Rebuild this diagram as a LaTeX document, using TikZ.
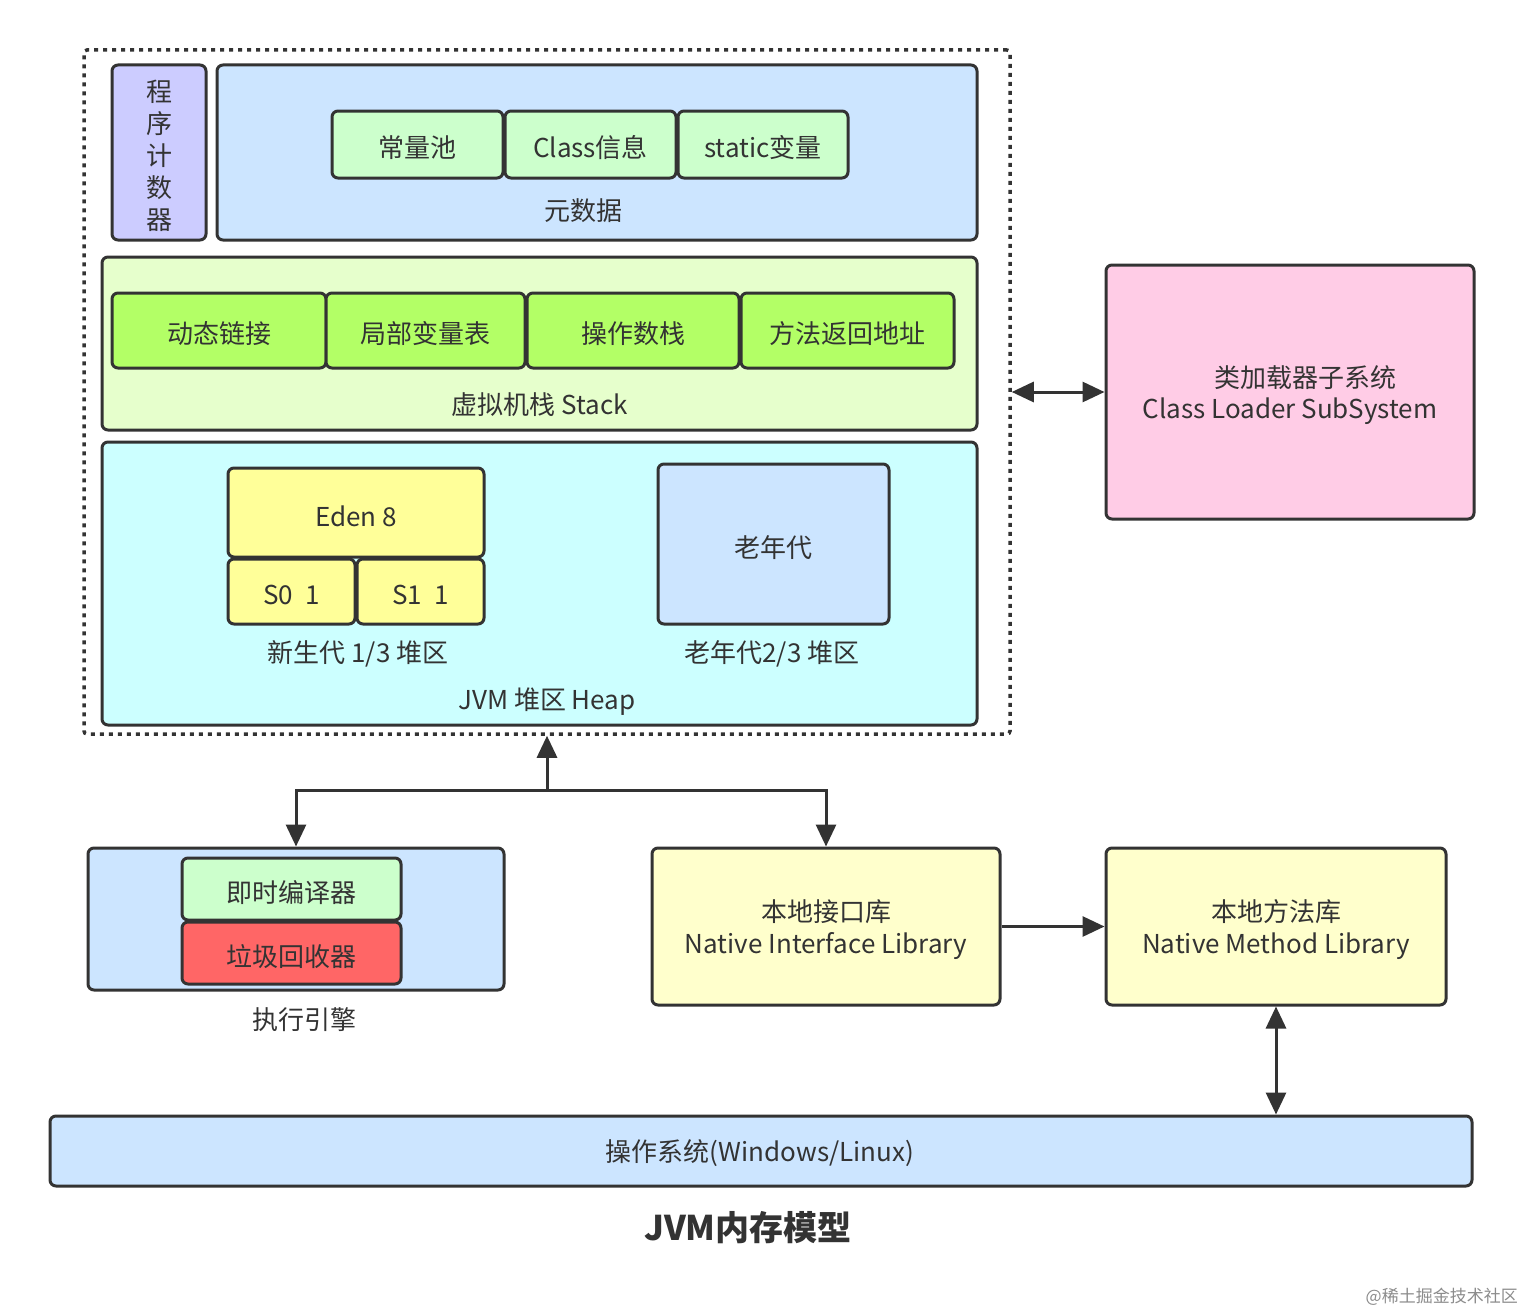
\documentclass[tikz,border=0pt]{standalone}
\usepackage{fontspec}
\setmainfont{Noto Sans CJK SC}
\usetikzlibrary{arrows.meta}
\definecolor{ln}{HTML}{333333}
\definecolor{cPurple}{HTML}{CCCCFF}
\definecolor{cBlue}{HTML}{CCE5FF}
\definecolor{cMint}{HTML}{CCFFCC}
\definecolor{cLime}{HTML}{E6FFCC}
\definecolor{cGreen}{HTML}{B3FF66}
\definecolor{cCyan}{HTML}{CCFFFF}
\definecolor{cYellow}{HTML}{FFFF99}
\definecolor{cPink}{HTML}{FFCCE6}
\definecolor{cCream}{HTML}{FFFFCC}
\definecolor{cRed}{HTML}{FF6666}
\tikzset{
  box/.style={draw=ln, line width=3pt, rounded corners=6pt, inner sep=0pt},
  boxtext/.style={inner sep=0pt, text=ln, font=\fontsize{26}{32}\selectfont, align=center, yshift=-3.5pt},
  lbl/.style={inner sep=0pt, text=ln, font=\fontsize{26}{32}\selectfont, align=center},
  conn/.style={draw=ln, line width=3pt, -{Triangle[length=22pt,width=20pt]}},
  dconn/.style={draw=ln, line width=3pt, {Triangle[length=22pt,width=20pt]}-{Triangle[length=22pt,width=20pt]}},
  outerbox/.style={draw=ln, line width=3.5pt, dash pattern=on 4pt off 5pt, rounded corners=3pt, inner sep=0pt}
}
\begin{document}
\begin{tikzpicture}[x=1pt,y=-1pt]
\useasboundingbox[fill=white] (0,0) rectangle (1524,1314);

% outer dotted JVM runtime area
\node[outerbox, minimum width=926pt, minimum height=684pt] (jvm) at (547,392) {};

% program counter
\node[box, fill=cPurple, minimum width=94pt, minimum height=175pt,
      label={[boxtext]center:{程\\序\\计\\数\\器}}] (pc) at (159,152.5) {};

% metadata
\node[box, fill=cBlue, minimum width=760pt, minimum height=175pt] (meta) at (597,152.5) {};
\node[box, fill=cMint, minimum width=171pt, minimum height=67pt, label={[boxtext]center:常量池}] (cpool) at (417.5,144.5) {};
\node[box, fill=cMint, minimum width=171pt, minimum height=67pt, label={[boxtext]center:Class信息}] (cinfo) at (590.5,144.5) {};
\node[box, fill=cMint, minimum width=170pt, minimum height=67pt, label={[boxtext]center:static变量}] (svar) at (763,144.5) {};
\node[lbl] (metalbl) at (583,211) {元数据};

% stack
\node[box, fill=cLime, minimum width=875pt, minimum height=173pt] (stack) at (539.5,343.5) {};
\node[box, fill=cGreen, minimum width=214pt, minimum height=75pt, label={[boxtext]center:动态链接}] (dyn) at (219,330.5) {};
\node[box, fill=cGreen, minimum width=199pt, minimum height=75pt, label={[boxtext]center:局部变量表}] (local) at (425.5,330.5) {};
\node[box, fill=cGreen, minimum width=212pt, minimum height=75pt, label={[boxtext]center:操作数栈}] (ops) at (633,330.5) {};
\node[box, fill=cGreen, minimum width=213pt, minimum height=75pt, label={[boxtext]center:方法返回地址}] (ret) at (847.5,330.5) {};
\node[lbl] (stacklbl) at (540,405) {虚拟机栈 Stack};

% heap
\node[box, fill=cCyan, minimum width=875pt, minimum height=283pt] (heap) at (539.5,583.5) {};
\node[box, fill=cYellow, minimum width=256pt, minimum height=89pt, label={[boxtext]center:Eden 8}] (eden) at (356,512.5) {};
\node[box, fill=cYellow, minimum width=127pt, minimum height=65pt, label={[boxtext]center:S0\ \ 1}] (s0) at (291.5,591.5) {};
\node[box, fill=cYellow, minimum width=127pt, minimum height=65pt, label={[boxtext]center:S1\ \ 1}] (s1) at (420.5,591.5) {};
\node[lbl] (younglbl) at (358,654) {新生代 1/3 堆区};
\node[box, fill=cBlue, minimum width=231pt, minimum height=160pt, label={[boxtext]center:老年代}] (old) at (773.5,544) {};
\node[lbl] (oldlbl) at (772,654) {老年代2/3 堆区};
\node[lbl] (heaplbl) at (547,702) {JVM 堆区 Heap};

% class loader
\node[box, fill=cPink, minimum width=368pt, minimum height=254pt,
      label={[boxtext, font=\fontsize{26}{31}\selectfont]center:{\hspace*{30pt}类加载器子系统\\Class Loader SubSystem}}] (loader) at (1290,392) {};

% execution engine
\node[box, fill=cBlue, minimum width=416pt, minimum height=142pt] (exec) at (296,919) {};
\node[box, fill=cMint, minimum width=219pt, minimum height=62pt, label={[boxtext]center:即时编译器}] (jit) at (291.5,889) {};
\node[box, fill=cRed, minimum width=219pt, minimum height=62pt, label={[boxtext]center:垃圾回收器}] (gc) at (291.5,953) {};
\node[lbl] (execlbl) at (304,1020) {执行引擎};

% native libraries
\node[box, fill=cCream, minimum width=348pt, minimum height=157pt,
      label={[boxtext]center:{本地接口库\\Native Interface Library}}] (nil) at (826,926.5) {};
\node[box, fill=cCream, minimum width=340pt, minimum height=157pt,
      label={[boxtext]center:{本地方法库\\Native Method Library}}] (nml) at (1276,926.5) {};

% OS
\node[box, fill=cBlue, minimum width=1422pt, minimum height=70pt] (os) at (761,1151) {};
\node[lbl] (oslbl) at (760,1153) {操作系统(Windows/Linux)};

% title and credit
\node[inner sep=0pt, text=ln, font=\fontsize{34}{40}\selectfont\bfseries] (title) at (748,1228) {JVM内存模型};
\node[inner sep=0pt, text=black!45, font=\fontsize{17}{20}\selectfont, anchor=east] (credit) at (1518,1297) {@稀土掘金技术社区};

% connectors
\draw[dconn] (jvm.east) -- (loader.west);
\coordinate (hub) at (547,790);
\draw[conn] (hub) -- (jvm.south);
\draw[conn] (hub) -| (exec.north);
\draw[conn] (hub) -| (nil.north);
\draw[conn] (nil.east) -- (nml.west);
\draw[dconn] (nml.south) -- (nml.south |- os.north);
\end{tikzpicture}
\end{document}
